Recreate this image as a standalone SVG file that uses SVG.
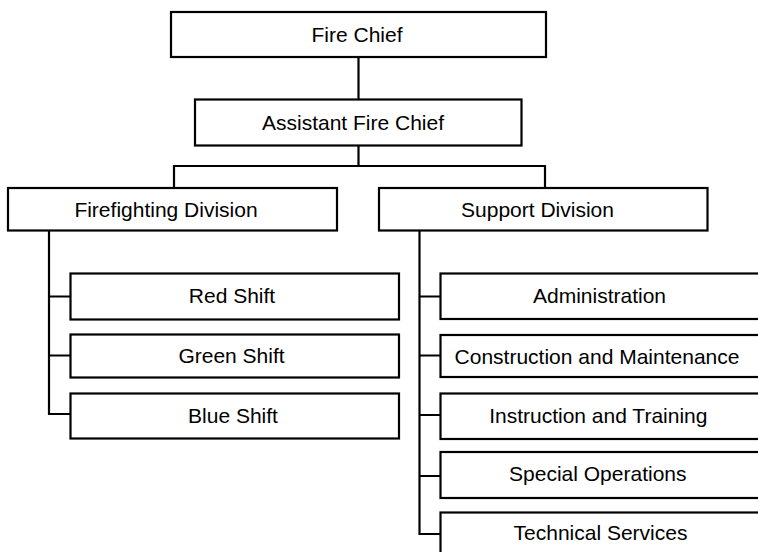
<svg xmlns="http://www.w3.org/2000/svg" width="758" height="552" viewBox="0 0 758 552">
<style>
.box{fill:#fff;stroke:#000;stroke-width:2.2}
.lbl{font-family:"Liberation Sans",Arial,sans-serif;font-size:21px;fill:#000;text-anchor:middle}
.con{fill:none;stroke:#000;stroke-width:2.2}
</style>
<rect width="758" height="552" fill="#fff"/>
<g id="connectors">
<path class="con" d="M358.5,57 V99.5"/>
<path class="con" d="M358.5,145.5 V166 M174,188 V166 H545 V188"/>
<path class="con" d="M49,230.5 V414 H70.5 M49,296.5 H70.5 M49,355.5 H70.5"/>
<path class="con" d="M419.5,230.5 V534 H440.5 M419.5,296.5 H440.5 M419.5,355.5 H440.5 M419.5,415 H440.5 M419.5,476 H440.5"/>
</g>
<g id="fire-chief"><rect class="box" x="171" y="12" width="375" height="45"/><text class="lbl" x="357" y="42">Fire Chief</text></g>
<g id="assistant-fire-chief"><rect class="box" x="195" y="99.5" width="326.5" height="46"/><text class="lbl" x="353" y="129.5">Assistant Fire Chief</text></g>
<g id="firefighting-division"><rect class="box" x="8" y="188" width="329" height="42.5"/><text class="lbl" x="166" y="216.5">Firefighting Division</text></g>
<g id="support-division"><rect class="box" x="379" y="188" width="328.5" height="42.5"/><text class="lbl" x="537.5" y="216.5">Support Division</text></g>
<g id="red-shift"><rect class="box" x="70.5" y="273.5" width="328.5" height="46"/><text class="lbl" x="232" y="303">Red Shift</text></g>
<g id="green-shift"><rect class="box" x="70.5" y="334.5" width="328.5" height="43"/><text class="lbl" x="231.5" y="363">Green Shift</text></g>
<g id="blue-shift"><rect class="box" x="70.5" y="393.5" width="328.5" height="45"/><text class="lbl" x="233" y="423">Blue Shift</text></g>
<g id="administration"><rect class="box" x="440.5" y="273.5" width="330" height="45.5"/><text class="lbl" x="599.5" y="303">Administration</text></g>
<g id="construction-and-maintenance"><rect class="box" x="440.5" y="335" width="330" height="42"/><text class="lbl" x="597" y="363.5">Construction and Maintenance</text></g>
<g id="instruction-and-training"><rect class="box" x="440.5" y="393.5" width="330" height="45.5"/><text class="lbl" x="598.3" y="423">Instruction and Training</text></g>
<g id="special-operations"><rect class="box" x="440.5" y="452" width="330" height="46"/><text class="lbl" x="597.8" y="481">Special Operations</text></g>
<g id="technical-services"><rect class="box" x="440.5" y="512.5" width="330" height="50"/><text class="lbl" x="600.5" y="540">Technical Services</text></g>
</svg>
